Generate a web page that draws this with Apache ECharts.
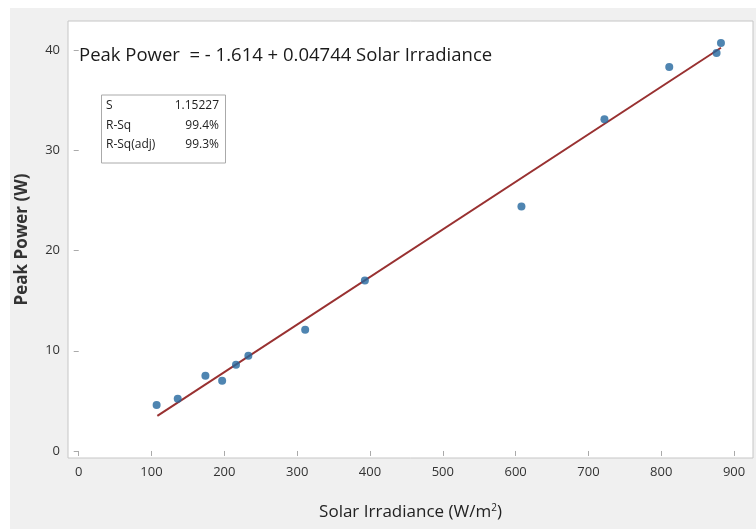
<!DOCTYPE html>
<html>
<head>
<meta charset="utf-8">
<script src="https://cdn.jsdelivr.net/npm/echarts@6/dist/echarts.min.js"></script>
<style>
  html, body { margin: 0; padding: 0; background: #fff; }
  #bg { position: absolute; left: 10px; top: 8px; width: 746px; height: 521px; background: #f0f0f0; }
  #chart { position: absolute; left: 0; top: 0; width: 756px; height: 529px; }
</style>
</head>
<body>
<div id="bg"></div>
<div id="chart"></div>
<script>
// observed points (irradiance W/m2, peak power W)
const irradiance = [107, 136, 174, 197, 216, 233, 311, 393, 608, 722, 811, 876, 882];
const peakPower = [4.6, 5.2, 7.5, 7.0, 8.6, 9.5, 12.1, 17.0, 24.4, 33.1, 38.3, 39.7, 40.7];

// fitted line end points
const fitX = [108, 882];
const fitY = [3.51, 40.23];

const xTicks = [0, 100, 200, 300, 400, 500, 600, 700, 800, 900];
const yTicks = [0, 10, 20, 30, 40];

const statNames = ['S', 'R-Sq', 'R-Sq(adj)'];
const statValues = ['1.15227', '99.4%', '99.3%'];

const chart = echarts.init(document.getElementById('chart'));
const FONT = 'Open Sans';

const statText = [];
statNames.forEach((n, i) => {
  statText.push({ type: 'text', left: 106, top: 100 + i * 19.5,
    style: { text: n, font: '12px "' + FONT + '"', fill: '#222' } });
  statText.push({ type: 'text', right: 756 - 219, top: 100 + i * 19.5,
    style: { text: statValues[i], font: '12px "' + FONT + '"', fill: '#222', align: 'right' } });
});

const option = {
  animation: false,
  textStyle: { fontFamily: FONT },
  title: {
    text: 'Peak Power  = - 1.614 + 0.04744 Solar Irradiance',
    left: 74,
    top: 41,
    textStyle: { fontSize: 18.5, fontWeight: 'normal', color: '#1a1a1a', fontFamily: FONT }
  },
  grid: {
    left: 68, right: 3, top: 21, bottom: 71,
    show: true, backgroundColor: '#fff', borderColor: '#c6c6c6', borderWidth: 1
  },
  xAxis: {
    type: 'value',
    min: -14.7, max: 926,
    name: 'Solar Irradiance (W/m{sup|2})',
    nameLocation: 'middle',
    nameGap: 45,
    nameTextStyle: {
      fontSize: 17, color: '#222', fontFamily: FONT,
      rich: { sup: { fontSize: 10, color: '#222', padding: [0, 0, 9, 0] } }
    },
    axisLine: { show: false },
    splitLine: { show: false },
    axisTick: { show: true, customValues: xTicks, length: 5, lineStyle: { color: '#aaa' } },
    axisLabel: { customValues: xTicks, fontSize: 13, color: '#333', margin: 8 }
  },
  yAxis: {
    type: 'value',
    min: -0.7, max: 42.9,
    name: 'Peak Power (W)',
    nameLocation: 'middle',
    nameGap: 37,
    nameTextStyle: { fontSize: 17, fontWeight: 'bold', color: '#333', fontFamily: FONT },
    axisLine: { show: false },
    splitLine: { show: false },
    axisTick: { show: true, customValues: yTicks, length: 5, lineStyle: { color: '#aaa' } },
    axisLabel: { customValues: yTicks, fontSize: 13, color: '#333', margin: 8 }
  },
  graphic: [
    { type: 'rect', shape: { x: 101.5, y: 95, width: 124, height: 68 },
      style: { fill: '#fff', stroke: '#aaa', lineWidth: 1 }, z: 100 },
    ...statText.map(t => Object.assign(t, { z: 101 }))
  ],
  series: [
    {
      type: 'line',
      data: fitX.map((x, i) => [x, fitY[i]]),
      showSymbol: false,
      lineStyle: { color: '#993131', width: 2 },
      z: 2
    },
    {
      type: 'scatter',
      data: irradiance.map((x, i) => [x, peakPower[i]]),
      symbol: 'circle',
      symbolSize: 8,
      itemStyle: { color: '#23669e' },
      z: 3
    }
  ]
};

chart.setOption(option);
</script>
</body>
</html>
